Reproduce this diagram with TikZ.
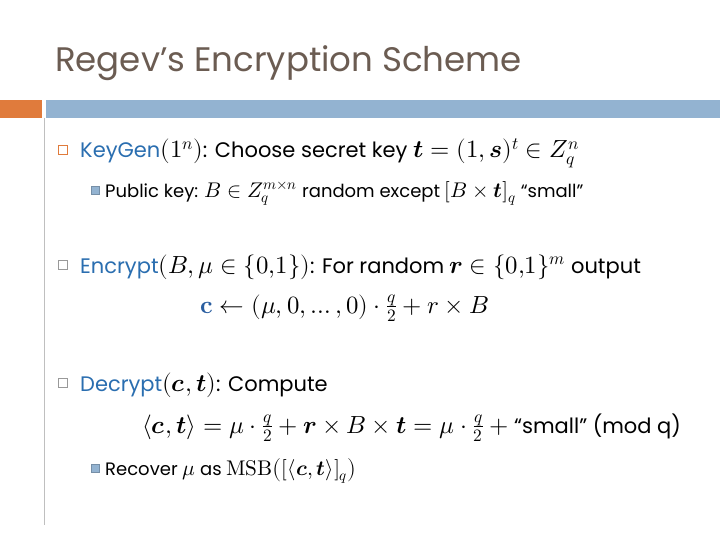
\documentclass[tikz,border=0pt]{standalone}
\usepackage{amsmath}
\usepackage{unicode-math}
\setmainfont{Poppins}
\setmathfont{Latin Modern Math}[Scale=1.18]
\definecolor{bluet}{HTML}{2A6EB0}
\definecolor{orangeb}{HTML}{E07B3C}
\definecolor{bluebar}{HTML}{93B3D1}
\definecolor{titlec}{HTML}{6B5C52}
\definecolor{mathc}{HTML}{2A5EA0}
\tikzset{
  txt/.style={anchor=base west, inner sep=0pt, font=\fontsize{21}{24}\selectfont},
  subtxt/.style={anchor=base west, inner sep=0pt, font=\fontsize{18}{21}\selectfont},
  bul/.style={draw=orangeb, line width=1.3pt, minimum size=9pt, inner sep=0pt},
  bulg/.style={draw=gray!80, line width=1.3pt, minimum size=9pt, inner sep=0pt},
  sbul/.style={fill=bluebar, draw=bluebar!80!black, line width=0.4pt, minimum size=8pt, inner sep=0pt}
}
\begin{document}
\begin{tikzpicture}[x=1pt,y=-1pt]
\useasboundingbox (0,0) rectangle (720,540);
\fill[white] (0,0) rectangle (720,540);
\node[anchor=base west, inner sep=0pt, text=titlec, font=\fontsize{34}{38}\selectfont] (title) at (55,72) {Regev’s Encryption Scheme};
\fill[orangeb] (0,100) rectangle (42,118);
\fill[bluebar] (46,100) rectangle (720,118);
\draw[gray!50, line width=0.6pt] (44,118) -- (44,525);
\node[bul] (b1) at (63,150) {};
\node[txt] (l1) at (80,158) {\textcolor{bluet}{KeyGen}$(1^n)$: Choose secret key $\symbfit{t}=(1,\symbfit{s})^t\in Z_q^n$};
\node[sbul] (s1) at (95,190) {};
\node[subtxt] (l2) at (105,197) {Public key: $B\in Z_q^{m\times n}$ random except $[B\times\symbfit{t}]_q$ “small”};
\node[bulg] (b2) at (63,265) {};
\node[txt] (l3) at (80,273) {\textcolor{bluet}{Encrypt}$(B,\mu\in\{0{,}1\})$: For random $\symbfit{r}\in\{0{,}1\}^m$ output};
\node[txt] (l4) at (200,313) {$\textcolor{mathc}{\symbf{c}}\leftarrow(\mu,0,\ldots,0)\cdot\frac{q}{2}+r\times B$};
\node[bulg] (b3) at (63,383) {};
\node[txt] (l5) at (80,391) {\textcolor{bluet}{Decrypt}$(\symbfit{c},\symbfit{t})$: Compute};
\node[txt] (l6) at (142,433) {$\langle\symbfit{c},\symbfit{t}\rangle=\mu\cdot\frac{q}{2}+\symbfit{r}\times B\times\symbfit{t}=\mu\cdot\frac{q}{2}+{}$“small” (mod q)};
\node[sbul] (s2) at (95,468) {};
\node[subtxt] (l7) at (105,475) {Recover $\mu$ as $\symrm{MSB}\bigl([\langle\symbfit{c},\symbfit{t}\rangle]_q\bigr)$};
\end{tikzpicture}
\end{document}
